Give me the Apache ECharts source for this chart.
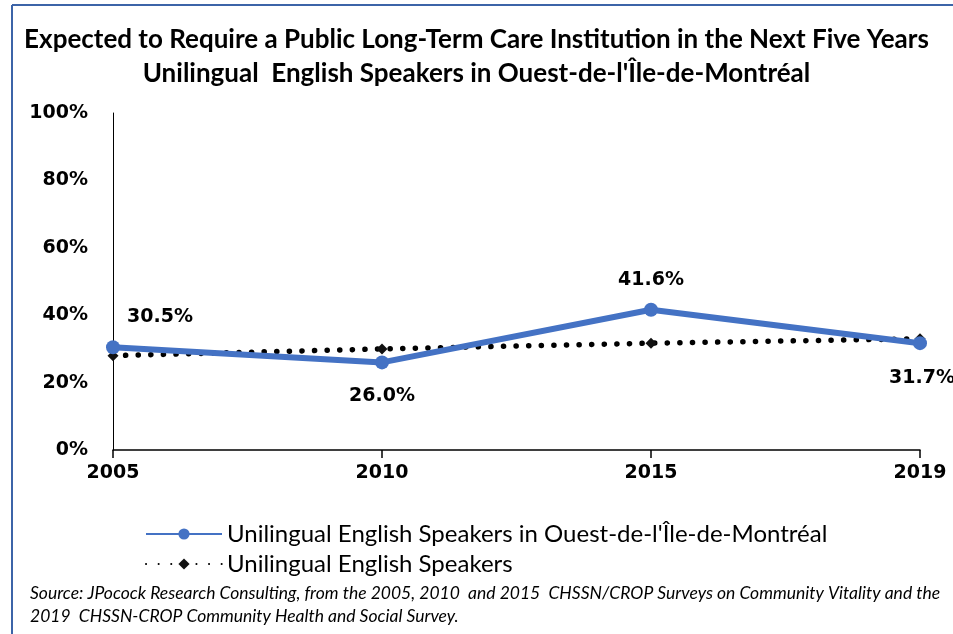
<!DOCTYPE html>
<html>
<head>
<meta charset="utf-8">
<script src="https://cdn.jsdelivr.net/npm/echarts@6/dist/echarts.min.js"></script>
<style>
html,body{margin:0;padding:0;background:#fff;}
#chart{width:953px;height:634px;}
</style>
</head>
<body>
<div id="chart"></div>
<script>
const categories = ['2005', '2010', '2015', '2019'];
const ouestValues = [30.5, 26.0, 41.6, 31.7];
const englishValues = [28.0, 30.0, 31.7, 33.0];
const yTicks = [0, 20, 40, 60, 80, 100];
const seriesNames = ["Unilingual English Speakers in Ouest-de-l'Île-de-Montréal", 'Unilingual English Speakers'];
const titleLines = ['Expected to Require a Public Long-Term Care Institution in the Next Five Years', "Unilingual  English Speakers in Ouest-de-l'Île-de-Montréal"];
const sourceLines = ['Source: JPocock Research Consulting, from the 2005, 2010  and 2015  CHSSN/CROP Surveys on Community Vitality and the', '2019  CHSSN-CROP Community Health and Social Survey.'];

const humanist = 'Lato, "Open Sans", sans-serif';
const wide = '"DejaVu Sans", sans-serif';
const labelOpts = [
  {position: 'top', offset: [47, -9]},
  {position: 'bottom', offset: [0, 12]},
  {position: 'top', offset: [0, -8]},
  {position: 'bottom', offset: [2, 13]}
];

const chart = echarts.init(document.getElementById('chart'));
chart.setOption({
  animation: false,
  backgroundColor: '#fff',
  title: {
    text: titleLines.join('\n'),
    left: 'center',
    top: 18,
    textStyle: {fontFamily: humanist, fontWeight: 'bold', fontSize: 26, lineHeight: 34, color: '#000'}
  },
  graphic: [
    {type: 'line', shape: {x1: 12, y1: 5, x2: 953, y2: 5}, style: {stroke: '#3c64a8', lineWidth: 2}},
    {type: 'line', shape: {x1: 12, y1: 5, x2: 12, y2: 634}, style: {stroke: '#3c64a8', lineWidth: 2}},
    {type: 'text', left: 30, top: 582, style: {text: sourceLines.join('\n'), font: 'italic 17.5px ' + humanist, lineHeight: 23, fill: '#000'}}
  ],
  legend: {
    orient: 'vertical',
    left: 140,
    top: 517,
    itemWidth: 76,
    itemHeight: 14,
    itemGap: 6,
    data: seriesNames,
    textStyle: {fontFamily: humanist, fontSize: 24, lineHeight: 24, color: '#000'}
  },
  grid: {left: 113, right: 33, top: 113, bottom: 184, containLabel: false},
  xAxis: {
    type: 'category',
    data: categories,
    boundaryGap: false,
    axisLine: {lineStyle: {color: '#000', width: 1.5}},
    axisTick: {show: true, length: 8, lineStyle: {color: '#000', width: 1.5}},
    axisLabel: {fontFamily: wide, fontWeight: 'bold', fontSize: 19, color: '#000', margin: 14}
  },
  yAxis: {
    type: 'value',
    min: 0, max: 100, interval: 20,
    axisLine: {show: true, lineStyle: {color: '#000', width: 1}},
    axisTick: {show: false},
    splitLine: {show: false},
    axisLabel: {fontFamily: wide, fontWeight: 'bold', fontSize: 19, color: '#000', margin: 25,
      formatter: v => yTicks.includes(v) ? v + '%' : ''}
  },
  series: [
    {
      name: seriesNames[1],
      type: 'line',
      data: englishValues,
      symbol: 'diamond',
      symbolSize: 11,
      itemStyle: {color: '#111'},
      lineStyle: {color: '#000', width: 5.5, type: [0.1, 12.5], cap: 'round'},
      z: 2
    },
    {
      name: seriesNames[0],
      type: 'line',
      data: ouestValues.map((v, i) => ({value: v, label: labelOpts[i]})),
      symbol: 'circle',
      symbolSize: 14,
      itemStyle: {color: '#4472C4'},
      lineStyle: {color: '#4472C4', width: 6},
      label: {show: true, formatter: p => p.value.toFixed(1) + '%', fontFamily: wide, fontWeight: 'bold', fontSize: 19, color: '#000'},
      z: 3
    }
  ]
});
</script>
</body>
</html>
